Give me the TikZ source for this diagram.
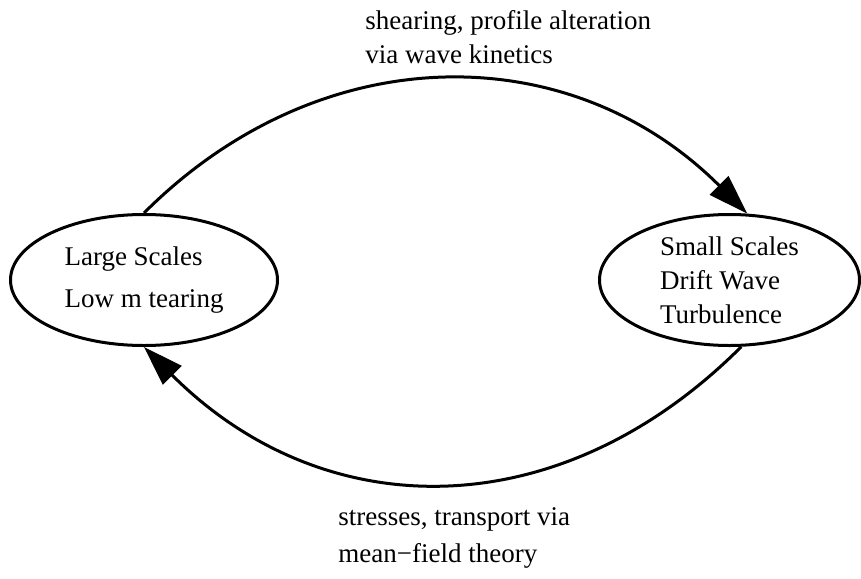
\documentclass[tikz,border=0pt]{standalone}
\usepackage{fontspec}
\setmainfont{Liberation Serif}
\usetikzlibrary{shapes.geometric, arrows.meta}

\begin{document}
\begin{tikzpicture}[
    x=0.5pt, y=-0.5pt,
    font=\fontsize{13.5pt}{17pt}\selectfont,
    scalebox/.style={
        ellipse, draw=black, line width=1.5pt, align=left,
        minimum width=133.5pt, minimum height=65.5pt, inner sep=0pt
    },
    note/.style={
        align=left, inner sep=0pt, anchor=base west
    },
    line/.style={
        draw, line width=1.5pt, -{Triangle[length=20pt, width=13pt]}
    }
]
\useasboundingbox (0,0) rectangle (861,578);

% Scales
\node[scalebox] (large) at (144,280) {Large Scales\\[4pt] Low m tearing};
\node[scalebox, minimum width=130pt] (small) at (729.5,280) {Small Scales\\ Drift Wave\\ Turbulence};

% Labels of the two arcs (base = last line)
\node[note] (shearing) at (365,63) {shearing, profile alteration\\ via wave kinetics};
\node[note] (stresses) at (338,562) {stresses, transport via\\[1.5pt] mean−field theory};

% Draw connections
\draw[line] (large.north) .. controls +(177,-177) and +(-177,-177) .. (small.75);
\draw[line] (small.-80) .. controls +(-181,181) and +(181,181) .. (large.south);

\end{tikzpicture}
\end{document}
